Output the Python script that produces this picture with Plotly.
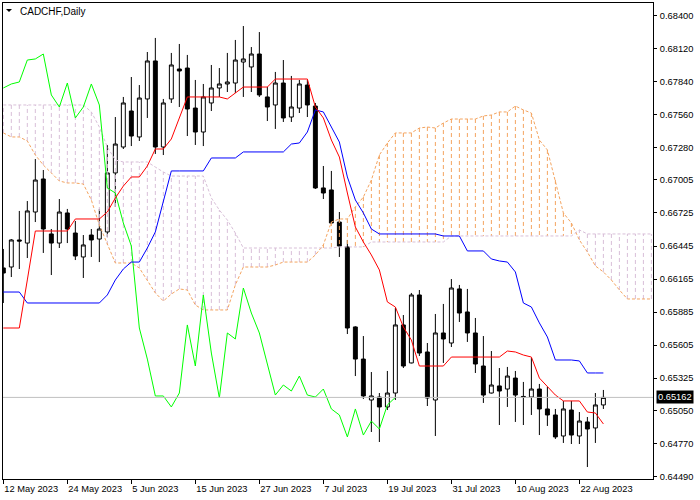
import plotly.graph_objects as go

# ---- data (CADCHF daily, 12 May 2023 .. 25 Aug 2023; x = bar index) ----
date_tick_idx = [0, 8, 16, 24, 32, 40, 48, 56, 64, 72]
date_labels = ["12 May 2023", "24 May 2023", "5 Jun 2023", "15 Jun 2023", "27 Jun 2023",
               "7 Jul 2023", "19 Jul 2023", "31 Jul 2023", "10 Aug 2023", "22 Aug 2023"]

open_ = [0.66259, 0.66267, 0.66496, 0.66470, 0.66733, 0.67013, 0.66547, 0.66470, 0.66725, 0.66555,
         0.66352, 0.66538, 0.66504, 0.66564, 0.67064, 0.67284, 0.67589, 0.67369, 0.67691, 0.68013,
         0.67284, 0.67691, 0.67945, 0.67953, 0.67614, 0.67411, 0.67657, 0.67784, 0.67818, 0.67826,
         0.68004, 0.67962, 0.68072, 0.67708, 0.67640, 0.67826, 0.67538, 0.67614, 0.67809, 0.67631,
         0.66937, 0.66920, 0.66648, 0.66437, 0.65759, 0.65487, 0.65140, 0.65165, 0.65081, 0.65199,
         0.65776, 0.65454, 0.66030, 0.65547, 0.65140, 0.65708, 0.65623, 0.66081, 0.65886, 0.65708,
         0.65428, 0.65199, 0.65259, 0.65233, 0.65326, 0.65170, 0.65165, 0.65233, 0.65064, 0.65013,
         0.64835, 0.65055, 0.64835, 0.64954, 0.64903, 0.65098]
high = [0.66420, 0.66504, 0.66742, 0.66826, 0.67182, 0.67089, 0.66589, 0.66843, 0.66759, 0.66657,
        0.66538, 0.66589, 0.66759, 0.67301, 0.67538, 0.67708, 0.67877, 0.67809, 0.68089, 0.68208,
        0.67691, 0.68081, 0.68157, 0.68064, 0.67852, 0.67818, 0.67979, 0.67953, 0.68081, 0.68191,
        0.68309, 0.68131, 0.68258, 0.67792, 0.67920, 0.68021, 0.67886, 0.67852, 0.67852, 0.67657,
        0.67123, 0.67081, 0.66733, 0.66496, 0.65765, 0.65682, 0.65377, 0.65199, 0.65386, 0.65920,
        0.65860, 0.66047, 0.66072, 0.65623, 0.65869, 0.65954, 0.66165, 0.66115, 0.66081, 0.65835,
        0.65682, 0.65555, 0.65411, 0.65420, 0.65386, 0.65293, 0.65496, 0.65276, 0.65250, 0.65064,
        0.65132, 0.65132, 0.65038, 0.64996, 0.65199, 0.65225]
low = [0.65962, 0.66182, 0.66250, 0.66343, 0.66648, 0.66386, 0.66199, 0.66428, 0.66470, 0.66326,
       0.66174, 0.66352, 0.66309, 0.66521, 0.66776, 0.67267, 0.67292, 0.67335, 0.67530, 0.67225,
       0.67216, 0.67657, 0.67623, 0.67377, 0.67301, 0.67292, 0.67589, 0.67708, 0.67750, 0.67742,
       0.67708, 0.67750, 0.67708, 0.67504, 0.67437, 0.67496, 0.67496, 0.67572, 0.67538, 0.66928,
       0.66843, 0.66635, 0.66352, 0.65699, 0.65343, 0.65149, 0.64869, 0.64784, 0.65055, 0.65140,
       0.65411, 0.65450, 0.65513, 0.65089, 0.64835, 0.65454, 0.65589, 0.65801, 0.65632, 0.65369,
       0.65115, 0.65195, 0.64928, 0.65081, 0.64954, 0.64928, 0.65013, 0.64843, 0.64920, 0.64810,
       0.64776, 0.64767, 0.64767, 0.64572, 0.64776, 0.65064]
close = [0.66216, 0.66496, 0.66487, 0.66742, 0.67004, 0.66589, 0.66470, 0.66733, 0.66589, 0.66360,
         0.66454, 0.66496, 0.66589, 0.67064, 0.67309, 0.67657, 0.67377, 0.67699, 0.68013, 0.67284,
         0.67657, 0.67979, 0.67928, 0.67606, 0.67411, 0.67708, 0.67784, 0.67818, 0.67835, 0.68021,
         0.68030, 0.68072, 0.67725, 0.67623, 0.67826, 0.67530, 0.67623, 0.67818, 0.67640, 0.66937,
         0.66894, 0.66640, 0.66445, 0.65750, 0.65487, 0.65174, 0.65174, 0.65081, 0.65199, 0.65776,
         0.65428, 0.66030, 0.65538, 0.65157, 0.65708, 0.65657, 0.66089, 0.65877, 0.65708, 0.65445,
         0.65182, 0.65267, 0.65216, 0.65343, 0.65182, 0.65165, 0.65233, 0.65064, 0.65013, 0.64827,
         0.65064, 0.64843, 0.64962, 0.64894, 0.65098, 0.65162]

tenkan = ([0.65750] * 3 + [0.66157] + [0.66572] * 5 + [0.66674] * 4 + [0.66733, 0.66852, 0.66953]
          + [0.67030] * 2 + [0.67123] + [0.67267] * 2 + [0.67352, 0.67530] + [0.67708] * 5
          + [0.67691, 0.67742] + [0.67792] * 4 + [0.67860] * 5
          + [0.67623, 0.67530, 0.67343, 0.67199, 0.66894, 0.66606, 0.66479, 0.66369, 0.66242,
             0.65971, 0.65928, 0.65759, 0.65648] + [0.65428] * 4 + [0.65504] * 7
          + [0.65555, 0.65547, 0.65521, 0.65504, 0.65326, 0.65250, 0.65182] + [0.65132] * 3
          + [0.65038, 0.65030, 0.64937])
kijun = ([0.66055] * 3 + [0.65962] * 10 + [0.66030, 0.66157, 0.66250] + [0.66309] * 2
         + [0.66428, 0.66564, 0.66835] + [0.67081] * 5 + [0.67191] * 4 + [0.67242] * 6
         + [0.67309, 0.67318, 0.67411, 0.67598, 0.67581, 0.67453, 0.67326, 0.67030, 0.66835,
            0.66725, 0.66589] + [0.66547] * 8 + [0.66530] * 3 + [0.66403] * 3
         + [0.66335, 0.66318, 0.66309, 0.66225, 0.65962, 0.65928, 0.65793, 0.65674]
         + [0.65479] * 3 + [0.65471] + [0.65369] * 3)
senkou_a = ([0.67403, 0.67369, 0.67369, 0.67335, 0.67216, 0.67131, 0.67064, 0.66996, 0.66979,
             0.66979, 0.66970, 0.66835, 0.66623, 0.66454, 0.66301, 0.66301, 0.66301, 0.66259,
             0.66157, 0.66047, 0.65979, 0.66038, 0.66081, 0.66072, 0.65945]
            + [0.65903] * 4 + [0.66115] + [0.66267] * 4 + [0.66284] + [0.66309] * 4
            + [0.66369, 0.66454, 0.66648, 0.66674, 0.66674, 0.66776, 0.66860, 0.67004, 0.67216,
               0.67318] + [0.67403] * 3 + [0.67445, 0.67453, 0.67445, 0.67487] + [0.67521] * 4
            + [0.67547, 0.67555, 0.67581, 0.67581, 0.67631, 0.67598, 0.67572, 0.67343, 0.67259,
               0.67004, 0.66725, 0.66640, 0.66496, 0.66394, 0.66276, 0.66225, 0.66157, 0.66072]
            + [0.65996] * 4)
senkou_b = ([0.67640] * 11 + [0.67581, 0.67453, 0.67284, 0.67174] + [0.67157] * 4
            + [0.67114, 0.67072] + [0.67038] * 5 + [0.66852, 0.66750, 0.66665, 0.66555]
            + [0.66428] * 12 + [0.66437] * 4 + [0.66479] * 10 + [0.66530] * 16 + [0.66581]
            + [0.66547] * 9)

y_ticks = [0.68400, 0.68120, 0.67840, 0.67560, 0.67280, 0.67005, 0.66725, 0.66445,
           0.66165, 0.65885, 0.65605, 0.65325, 0.65050, 0.64770, 0.64490]

SHIFT = 26  # chikou displacement
n = len(close)
x_bars = list(range(n))
chikou_x = list(range(n - SHIFT))
chikou_y = close[SHIFT:]
x_cloud = list(range(len(senkou_a)))

fig = go.Figure()

# cloud hatching (vertical dashed segments between span A and span B)
hx_up, hy_up, hx_dn, hy_dn = [], [], [], []
for i, (a, b) in enumerate(zip(senkou_a, senkou_b)):
    if a >= b:
        hx_up += [i, i, None]; hy_up += [a, b, None]
    else:
        hx_dn += [i, i, None]; hy_dn += [a, b, None]
fig.add_trace(go.Scatter(x=hx_up, y=hy_up, mode="lines", hoverinfo="skip",
                         line=dict(color="#F4A460", width=1, dash="4px,3px")))
fig.add_trace(go.Scatter(x=hx_dn, y=hy_dn, mode="lines", hoverinfo="skip",
                         line=dict(color="#D8BFD8", width=1, dash="4px,3px")))
fig.add_trace(go.Scatter(x=x_cloud, y=senkou_a, mode="lines",
                         line=dict(color="#F4A460", width=1, dash="3px,2px")))
fig.add_trace(go.Scatter(x=x_cloud, y=senkou_b, mode="lines",
                         line=dict(color="#D8BFD8", width=1, dash="3px,2px")))

# current price line
fig.add_hline(y=close[-1], line=dict(color="#C0C0C0", width=1))

fig.add_trace(go.Candlestick(
    x=x_bars, open=open_, high=high, low=low, close=close,
    increasing=dict(line=dict(color="black", width=1), fillcolor="white"),
    decreasing=dict(line=dict(color="black", width=1), fillcolor="black"),
    whiskerwidth=0, hoverinfo="skip"))

fig.add_trace(go.Scatter(x=chikou_x, y=chikou_y, mode="lines",
                         line=dict(color="#00FF00", width=1)))
fig.add_trace(go.Scatter(x=x_bars, y=kijun, mode="lines",
                         line=dict(color="#0000FF", width=1)))
fig.add_trace(go.Scatter(x=x_bars, y=tenkan, mode="lines",
                         line=dict(color="#FF0000", width=1)))

font = "Tahoma, Liberation Sans, Arial, sans-serif"
fig.update_layout(
    width=700, height=500, showlegend=False,
    margin=dict(l=3, r=47, t=3, b=21, autoexpand=False),
    paper_bgcolor="white", plot_bgcolor="white",
    font=dict(family=font, size=9.3, color="black"),
    xaxis=dict(range=[-0.04, 81.2], showgrid=False, zeroline=False, automargin=False,
               showline=True, mirror=True, linecolor="black", linewidth=1,
               tickmode="array", tickvals=date_tick_idx, ticktext=date_labels,
               ticks="outside", ticklen=4, tickcolor="black",
               ticklabelposition="outside right", ticklabelstandoff=1,
               rangeslider=dict(visible=False)),
    yaxis=dict(range=[0.644705, 0.685042], side="right", showgrid=False, zeroline=False,
               automargin=False,
               showline=True, mirror=True, linecolor="black", linewidth=1,
               tickmode="array", tickvals=y_ticks,
               ticktext=[f"{v:.5f}" for v in y_ticks],
               ticks="outside", ticklen=3, tickcolor="black", ticklabelstandoff=1),
)

# title with small triangle
fig.add_shape(type="path", xref="paper", yref="paper",
              path="M 0.0046 0.9874 L 0.0138 0.9874 L 0.0092 0.9811 Z",
              fillcolor="black", line=dict(color="black", width=0))
fig.add_annotation(xref="paper", yref="paper", x=0.023, y=0.983, xanchor="left",
                   yanchor="middle", text="CADCHF,Daily", showarrow=False,
                   font=dict(family=font, size=10, color="black"))
# current price label
fig.add_annotation(xref="paper", yref="y", x=1.004, y=close[-1], xanchor="left",
                   yanchor="middle", text=f"{close[-1]:.5f}", showarrow=False,
                   bgcolor="black", borderpad=1,
                   font=dict(family=font, size=9.3, color="white"))

fig.write_html("out.html", config={"displayModeBar": False},
               post_script="document.body.style.margin='0px';document.body.style.padding='0px';")
